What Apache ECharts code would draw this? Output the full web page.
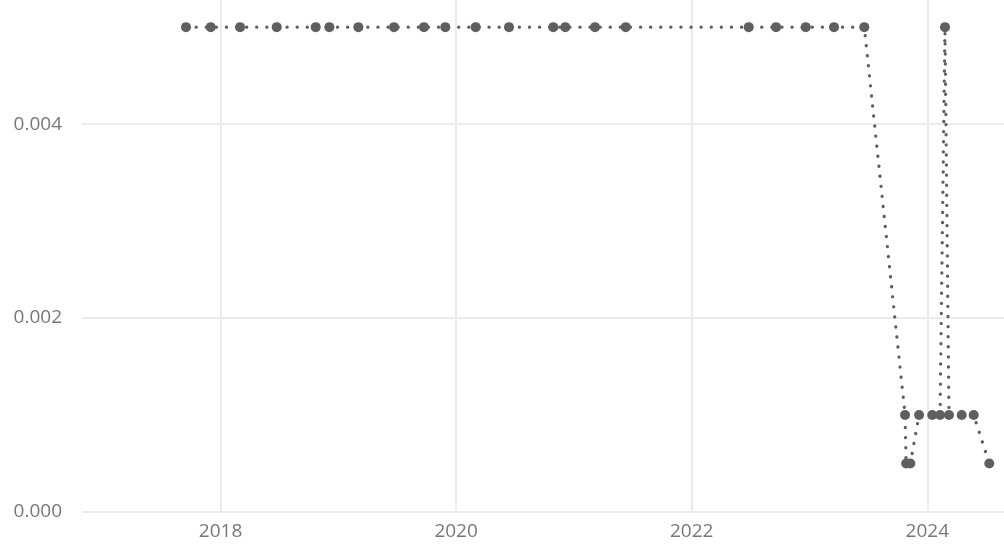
<!DOCTYPE html>
<html>
<head>
<meta charset="utf-8">
<script src="https://cdn.jsdelivr.net/npm/echarts@6/dist/echarts.min.js"></script>
<style>
html,body{margin:0;padding:0;background:#fff;}
#c{width:1004px;height:548px;}
</style>
</head>
<body>
<div id="c"></div>
<script>
// decimal-year dates of each observation
const years = [
  2017.707, 2017.917, 2018.166, 2018.477, 2018.808, 2018.924, 2019.170, 2019.473,
  2019.727, 2019.908, 2020.166, 2020.449, 2020.825, 2020.927, 2021.179, 2021.440,
  2022.484, 2022.716, 2022.968, 2023.208, 2023.465,
  2023.811, 2023.820, 2023.856, 2023.930, 2024.042, 2024.108, 2024.150, 2024.184,
  2024.292, 2024.394, 2024.526
];
const values = [
  0.005, 0.005, 0.005, 0.005, 0.005, 0.005, 0.005, 0.005,
  0.005, 0.005, 0.005, 0.005, 0.005, 0.005, 0.005, 0.005,
  0.005, 0.005, 0.005, 0.005, 0.005,
  0.001, 0.0005, 0.0005, 0.001, 0.001, 0.001, 0.005, 0.001,
  0.001, 0.001, 0.0005
];
const xTicks = [2018, 2020, 2022, 2024];
const yTicks = [0, 0.002, 0.004];

const chart = echarts.init(document.getElementById('c'), null, {renderer: 'canvas'});
const labelStyle = {color: '#777777', fontSize: 19, fontFamily: 'Open Sans'};
chart.setOption({
  animation: false,
  backgroundColor: '#ffffff',
  grid: {left: 82, right: 0, top: 0, bottom: 36, containLabel: false},
  xAxis: {
    type: 'value',
    min: 2016.824,
    max: 2024.651,
    axisLine: {show: false},
    axisTick: {show: false, customValues: xTicks},
    axisLabel: Object.assign({customValues: xTicks, margin: 10, formatter: v => String(Math.round(v))}, labelStyle),
    splitLine: {show: true, lineStyle: {color: '#ebebeb', width: 2}}
  },
  yAxis: {
    type: 'value',
    min: 0,
    max: 0.00528,
    axisLine: {show: false},
    axisTick: {show: false, customValues: yTicks},
    axisLabel: Object.assign({margin: 20, formatter: v => v.toFixed(3), customValues: yTicks}, labelStyle),
    splitLine: {show: true, lineStyle: {color: '#ebebeb', width: 2}}
  },
  series: [{
    type: 'line',
    data: years.map((y, i) => [y, values[i]]),
    symbol: 'circle',
    symbolSize: 10,
    showSymbol: true,
    itemStyle: {color: '#5f5f5f'},
    lineStyle: {color: '#5f5f5f', width: 3.3, type: [0.1, 10], cap: 'round'},
    clip: false
  }]
});
</script>
</body>
</html>
